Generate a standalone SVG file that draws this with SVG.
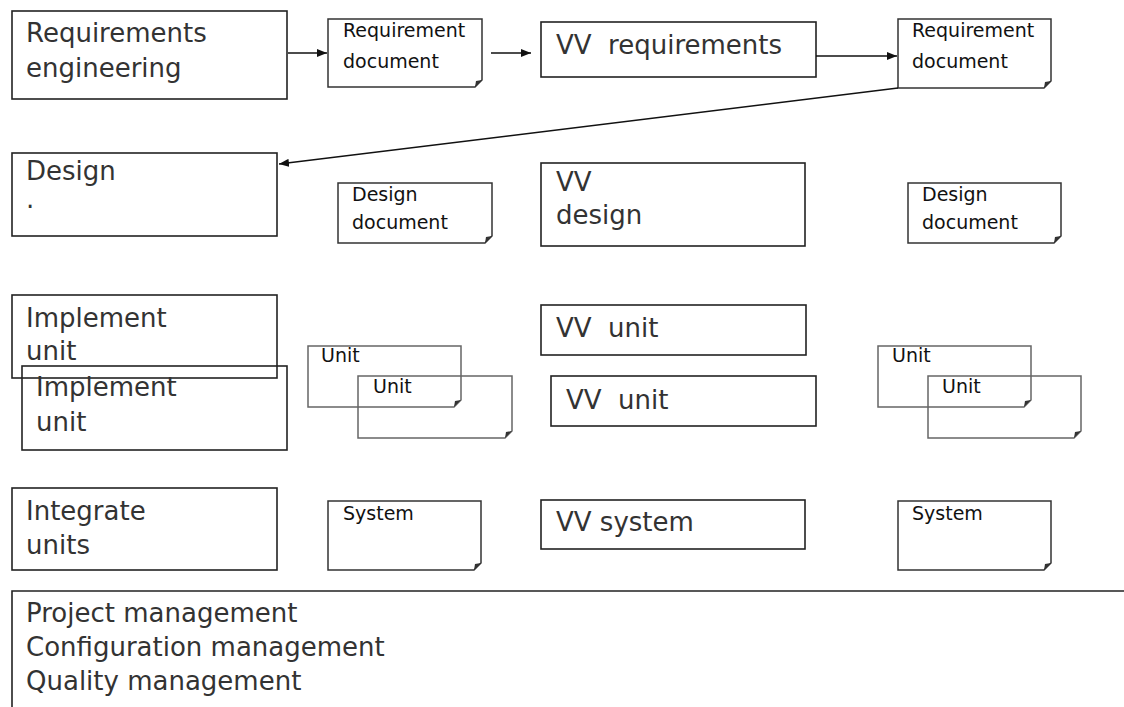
<svg xmlns="http://www.w3.org/2000/svg" width="1124" height="707" viewBox="0 0 1124 707">
<defs>
<marker id="ah" markerUnits="userSpaceOnUse" markerWidth="10" markerHeight="8" refX="10" refY="4" orient="auto">
<path d="M0,0 L10,4 L0,8 Z" fill="#111"/>
</marker>
<style>
.box{fill:none;stroke:#222;stroke-width:1.6}
.doc{fill:none;stroke:#333;stroke-width:1.5}
.udoc{fill:none;stroke:#666;stroke-width:1.5}
.fold{fill:#333}
.t{font-family:"DejaVu Sans",sans-serif;font-size:26px;fill:#333;white-space:pre}
.d{font-family:"DejaVu Sans",sans-serif;font-size:19px;fill:#111}
.conn{stroke:#111;stroke-width:1.5;fill:none}
</style>
</defs>
<rect width="1124" height="707" fill="#fff"/>

<g id="req-eng"><rect class="box" x="12" y="11" width="275" height="88"/><text class="t" x="26" y="42">Requirements</text><text class="t" x="26" y="77">engineering</text></g>
<g id="req-doc-1"><path class="doc" d="M328,19 H482 V80 L475,87 H328 Z"/><path class="fold" d="M475,87 L482,80 L476,81 Z"/><text class="d" x="343" y="37">Requirement</text><text class="d" x="343" y="68">document</text></g>
<g id="vv-req"><rect class="box" x="541" y="22" width="275" height="55"/><text class="t" x="556" y="54">VV  requirements</text></g>
<g id="req-doc-2"><path class="doc" d="M898,19 H1051 V81 L1044,88 H898 Z"/><path class="fold" d="M1044,88 L1051,81 L1045,82 Z"/><text class="d" x="912" y="37">Requirement</text><text class="d" x="912" y="68">document</text></g>

<g id="design"><rect class="box" x="12" y="153" width="265" height="83"/><text class="t" x="26" y="180">Design</text><text class="t" x="26" y="208">.</text></g>
<g id="design-doc-1"><path class="doc" d="M338,183 H492 V236 L485,243 H338 Z"/><path class="fold" d="M485,243 L492,236 L486,237 Z"/><text class="d" x="352" y="201">Design</text><text class="d" x="352" y="229">document</text></g>
<g id="vv-design"><rect class="box" x="541" y="163" width="264" height="83"/><text class="t" x="556" y="191">VV</text><text class="t" x="556" y="224">design</text></g>
<g id="design-doc-2"><path class="doc" d="M908,183 H1061 V236 L1054,243 H908 Z"/><path class="fold" d="M1054,243 L1061,236 L1055,237 Z"/><text class="d" x="922" y="201">Design</text><text class="d" x="922" y="229">document</text></g>

<g id="implement-1"><rect class="box" x="12" y="295" width="265" height="83"/><text class="t" x="26" y="327">Implement</text><text class="t" x="26" y="360">unit</text></g>
<g id="implement-2"><rect class="box" x="22" y="366" width="265" height="84"/><text class="t" x="36" y="396">Implement</text><text class="t" x="36" y="431">unit</text></g>
<g id="unit-doc-a"><path class="udoc" d="M308,346 H461 V400 L454,407 H308 Z"/><path class="fold" d="M454,407 L461,400 L455,401 Z"/><text class="d" x="321" y="362">Unit</text></g>
<g id="unit-doc-b"><path class="udoc" d="M358,376 H512 V431 L505,438 H358 Z"/><path class="fold" d="M505,438 L512,431 L506,432 Z"/><text class="d" x="373" y="393">Unit</text></g>
<g id="vv-unit-1"><rect class="box" x="541" y="305" width="265" height="50"/><text class="t" x="556" y="337">VV  unit</text></g>
<g id="vv-unit-2"><rect class="box" x="551" y="376" width="265" height="50"/><text class="t" x="566" y="409">VV  unit</text></g>
<g id="unit-doc-c"><path class="udoc" d="M878,346 H1031 V400 L1024,407 H878 Z"/><path class="fold" d="M1024,407 L1031,400 L1025,401 Z"/><text class="d" x="892" y="362">Unit</text></g>
<g id="unit-doc-d"><path class="udoc" d="M928,376 H1081 V431 L1074,438 H928 Z"/><path class="fold" d="M1074,438 L1081,431 L1075,432 Z"/><text class="d" x="942" y="393">Unit</text></g>

<g id="integrate"><rect class="box" x="12" y="488" width="265" height="82"/><text class="t" x="26" y="520">Integrate</text><text class="t" x="26" y="554">units</text></g>
<g id="system-doc-1"><path class="doc" d="M328,501 H481 V563 L474,570 H328 Z"/><path class="fold" d="M474,570 L481,563 L475,564 Z"/><text class="d" x="343" y="520">System</text></g>
<g id="vv-system"><rect class="box" x="541" y="500" width="264" height="49"/><text class="t" x="556" y="531">VV system</text></g>
<g id="system-doc-2"><path class="doc" d="M898,501 H1051 V563 L1044,570 H898 Z"/><path class="fold" d="M1044,570 L1051,563 L1045,564 Z"/><text class="d" x="912" y="520">System</text></g>

<g id="management"><path class="box" d="M12,707 V591 H1124"/><text class="t" x="26" y="622">Project management</text><text class="t" x="26" y="656">Configuration management</text><text class="t" x="26" y="690">Quality management</text></g>

<g id="connectors">
<line class="conn" x1="288" y1="53" x2="327" y2="53" marker-end="url(#ah)"/>
<line class="conn" x1="491" y1="53" x2="531" y2="53" marker-end="url(#ah)"/>
<line class="conn" x1="816" y1="56" x2="897" y2="56" marker-end="url(#ah)"/>
<line class="conn" x1="898" y1="88" x2="279" y2="164" marker-end="url(#ah)"/>
</g>
</svg>
